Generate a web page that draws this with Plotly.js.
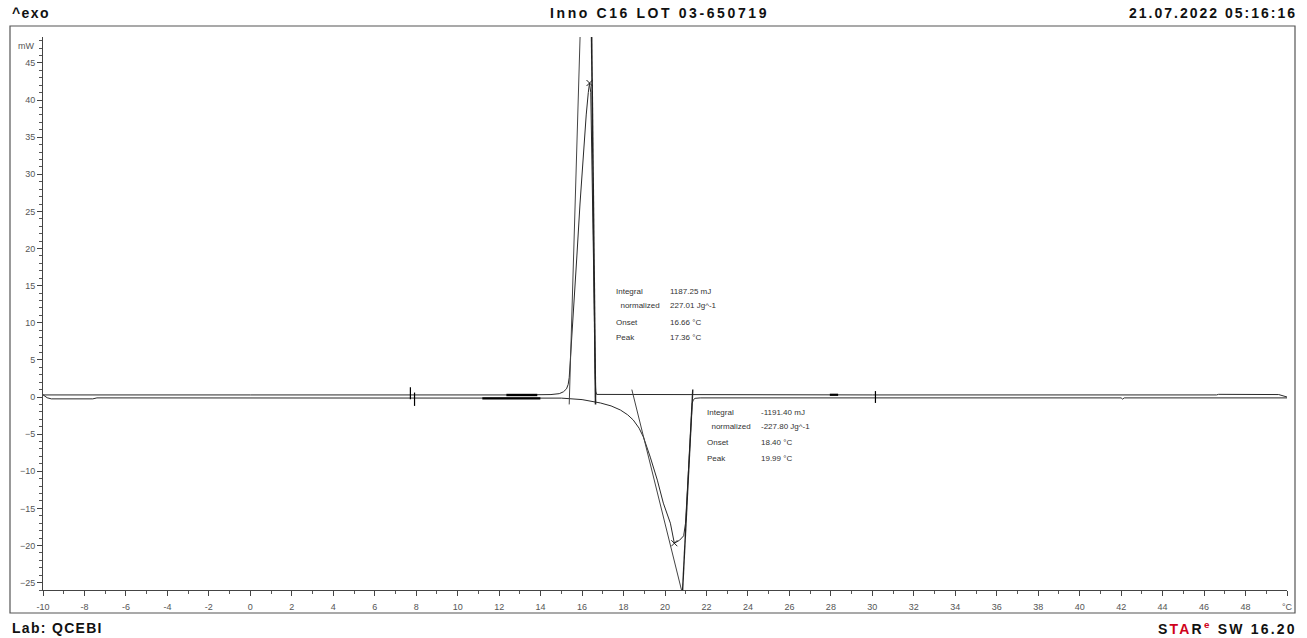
<!DOCTYPE html>
<html>
<head>
<meta charset="utf-8">
<script src="https://cdn.plot.ly/plotly-3.0.1.min.js"></script>
<style>
html,body{margin:0;padding:0;background:#fff;}
#chart{width:1307px;height:638px;}
</style>
</head>
<body>
<div id="chart"></div>
<script>
// ---- data ----
// cooling run (exotherm, crystallisation)
const coolT = [50, 49.6, 46.7, 46.6, 30, 20, 17, 16.8, 16.7, 16.66, 16.63, 16.6, 16.55, 16.5, 16.42, 16.36, 16.3, 16.2, 16.05, 15.9, 15.75, 15.6, 15.5, 15.45, 15.42, 15.38, 15.33, 15.25, 15.1, 14.9, 14.5, 13, 0, -10];
const coolW = [0.0, 0.33, 0.36, 0.28, 0.28, 0.28, 0.28, 0.28, 0.35, 0.8, 3, 10, 20, 30, 41, 42.3, 41, 38, 32.5, 26, 19, 12, 8, 6, 4, 2.6, 1.7, 1.1, 0.7, 0.45, 0.33, 0.28, 0.28, 0.28];
// heating run (endotherm, melting)
const heatT = [-10, -9.8, -9.6, -7.6, -7.4, 0, 7.7, 12, 15, 16, 16.88, 17.4, 17.85, 18.2, 18.47, 18.75, 18.96, 19.29, 19.63, 19.92, 20.26, 20.45, 20.7, 20.9, 20.99, 21.05, 21.12, 21.21, 21.27, 21.31, 21.36, 21.45, 21.7, 30, 42.0, 42.07, 42.15, 50];
const heatW = [0.3, -0.1, -0.25, -0.25, -0.12, -0.12, -0.12, -0.13, -0.15, -0.35, -0.8, -1.2, -1.75, -2.4, -3.1, -4.2, -5.4, -8.1, -11.2, -14.3, -17.0, -19.7, -19.3, -18.7, -17.0, -14.0, -10.0, -5.5, -2.2, -0.9, -0.4, -0.18, -0.12, -0.12, -0.12, -0.28, -0.12, -0.12];
// evaluation constructions (tangents)
const exoTanLeftT = [15.38, 15.93];
const exoTanLeftW = [-1, 51];
const exoTanRightT = [16.45, 16.65];
const exoTanRightW = [51, -1];
const endoTanLeftT = [18.40, 20.84];
const endoTanLeftW = [1.0, -26.5];
const endoTanRightT = [21.34, 20.84];
const endoTanRightW = [1.0, -26.5];
// evaluation baselines / limits
const baseA_T = [11.19, 13.99];
const baseA_W = [-0.18, -0.18];
const baseB_T = [12.35, 13.84];
const baseB_W = [0.27, 0.27];
const baseC_T = [27.95, 28.35];
const baseC_W = [0.3, 0.3];
const limit1aT = [7.72, 7.72];
const limit1aW = [1.3, -0.3];
const limit1bT = [7.92, 7.92];
const limit1bW = [0.6, -1.2];
const limit2T = [30.15, 30.15];
const limit2W = [0.8, -0.8];
// peak markers
const peakT = [16.36, 20.45];
const peakW = [42.3, -19.7];
// ticks
const xTickVals = [-10,-8,-6,-4,-2,0,2,4,6,8,10,12,14,16,18,20,22,24,26,28,30,32,34,36,38,40,42,44,46,48,50];
const xTickText = ['-10','-8','-6','-4','-2','0','2','4','6','8','10','12','14','16','18','20','22','24','26','28','30','32','34','36','38','40','42','44','46','48','°C'];
const yTickVals = [-25,-20,-15,-10,-5,0,5,10,15,20,25,30,35,40,45];
// result tables
const exoLabels = ['Integral', ' normalized', 'Onset', 'Peak'];
const exoValues = ['1187.25 mJ', '227.01 Jg^-1', '16.66 °C', '17.36 °C'];
const endoLabels = ['Integral', ' normalized', 'Onset', 'Peak'];
const endoValues = ['-1191.40 mJ', '-227.80 Jg^-1', '18.40 °C', '19.99 °C'];

// ---- figure ----
const lineCol = '#2a2a2a';
function seg(x, y, w, c) {
  return {x: x, y: y, type: 'scatter', mode: 'lines', line: {color: c || lineCol, width: w || 1}, hoverinfo: 'skip', showlegend: false};
}
const traces = [
  seg(coolT, coolW, 1),
  seg(heatT, heatW, 1),
  seg(exoTanLeftT, exoTanLeftW, 1, '#444'),
  seg(exoTanRightT, exoTanRightW, 1.6, '#222'),
  seg(endoTanLeftT, endoTanLeftW, 1, '#444'),
  seg(endoTanRightT, endoTanRightW, 1.4, '#222'),
  seg(baseA_T, baseA_W, 2.4, '#000'),
  seg(baseB_T, baseB_W, 2.4, '#000'),
  seg(baseC_T, baseC_W, 2.2, '#000'),
  seg(limit1aT, limit1aW, 1.2, '#000'),
  seg(limit1bT, limit1bW, 1.2, '#000'),
  seg(limit2T, limit2W, 1.2, '#000'),
  {x: peakT, y: peakW, type: 'scatter', mode: 'markers', marker: {symbol: 'x-thin-open', size: 6, color: '#222', line: {color: '#222', width: 1}}, hoverinfo: 'skip', showlegend: false}
];

const tickFont = {family: 'Liberation Sans, Arial, sans-serif', size: 9, color: '#555'};
const hdrFont = {family: 'Liberation Sans, Arial, sans-serif', size: 14, color: '#111', weight: 'bold'};
const tblFont = {family: 'Liberation Sans, Arial, sans-serif', size: 8, color: '#333'};

const ann = [];
// header / footer (first five: get letter spacing)
function pAnn(text, xpx, ypx) {
  // pixel -> paper (plot area 43..1287 x, 37..590 y)
  return {text: text, xref: 'paper', yref: 'paper', x: (xpx - 43) / 1244, y: (590 - ypx) / 553,
          xanchor: 'left', align: 'left', yanchor: 'middle', showarrow: false, font: hdrFont};
}
ann.push(pAnn('^exo', 10, 13));
ann.push(pAnn('Inno C16 LOT 03-650719', 548, 13));
ann.push(pAnn('21.07.2022 05:16:16', 1127, 13));
ann.push(pAnn('Lab: QCEBI', 10, 628));
ann.push(pAnn('S<span style="color:#d0021b">TA</span>R<sup><span style="color:#d0021b">e</span></sup> SW 16.20', 1156, 628));
// mW unit label
ann.push({text: 'mW', xref: 'paper', yref: 'y', x: (36 - 43) / 1244, y: 47.3, xanchor: 'right', yanchor: 'middle', showarrow: false, font: tickFont});
// result tables
const exoRowY = [291, 305, 322, 337];
const endoRowY = [412, 427, 442, 458];
function tAnn(text, xpx, ypx) {
  return {text: text, xref: 'paper', yref: 'paper', x: (xpx - 43) / 1244, y: (590 - ypx) / 553,
          xanchor: 'left', align: 'left', yanchor: 'middle', showarrow: false, font: tblFont};
}
for (let i = 0; i < exoLabels.length; i++) {
  ann.push(tAnn(exoLabels[i].replace(' ', '&nbsp;&nbsp;'), 614, exoRowY[i]));
  ann.push(tAnn(exoValues[i], 668, exoRowY[i]));
}
for (let i = 0; i < endoLabels.length; i++) {
  ann.push(tAnn(endoLabels[i].replace(' ', '&nbsp;&nbsp;'), 705, endoRowY[i]));
  ann.push(tAnn(endoValues[i], 759, endoRowY[i]));
}

const layout = {
  width: 1307, height: 638,
  margin: {l: 43, r: 20, t: 37, b: 48, pad: 0},
  paper_bgcolor: '#fff', plot_bgcolor: '#fff',
  showlegend: false,
  xaxis: {
    range: [-10, 50], tickmode: 'array', tickvals: xTickVals, ticktext: xTickText,
    showgrid: false, zeroline: false, showline: true, linecolor: '#444', linewidth: 1,
    ticks: 'outside', ticklen: 5, tickwidth: 1, tickcolor: '#444', tickfont: tickFont, ticklabelstandoff: 3,
    minor: {tickmode: 'linear', tick0: -10, dtick: 1, ticks: 'outside', ticklen: 3, tickwidth: 1, tickcolor: '#555', showgrid: false}
  },
  yaxis: {
    range: [-26.0, 48.5], tickmode: 'array', tickvals: yTickVals,
    showgrid: false, zeroline: false, showline: true, linecolor: '#444', linewidth: 1,
    ticks: 'outside', ticklen: 5, tickwidth: 1, tickcolor: '#444', tickfont: tickFont,
    minor: {tickmode: 'linear', tick0: 0, dtick: 1, ticks: 'outside', ticklen: 3, tickwidth: 1, tickcolor: '#555', showgrid: false}
  },
  shapes: [{type: 'rect', xref: 'paper', yref: 'paper',
            x0: (10 - 43) / 1244, x1: (1295 - 43) / 1244, y0: (590 - 613) / 553, y1: (590 - 26) / 553,
            line: {color: '#555', width: 1.2}, fillcolor: 'rgba(0,0,0,0)', layer: 'below'}],
  annotations: ann
};

Plotly.newPlot('chart', traces, layout, {staticPlot: true, displayModeBar: false}).then(function () {
  const spacing = ['1.4px', '2.6px', '2.0px', '1.3px', '2.2px'];
  for (let i = 0; i < 5; i++) {
    const t = document.querySelector('g.annotation[data-index="' + i + '"] text');
    if (t) t.style.letterSpacing = spacing[i];
  }
});
</script>
</body>
</html>
